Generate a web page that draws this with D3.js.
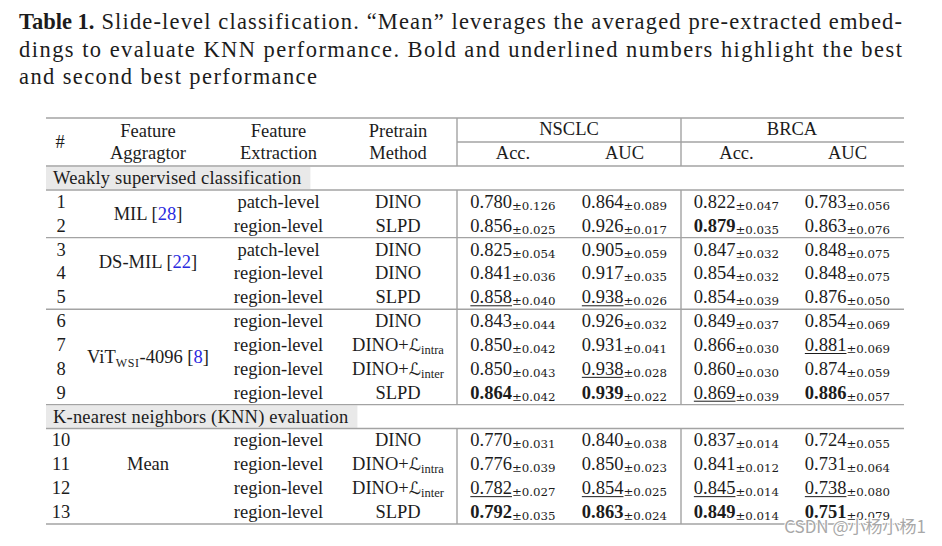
<!DOCTYPE html>
<html>
<head>
<meta charset="utf-8">
<script src="https://cdn.jsdelivr.net/npm/d3@7"></script>
<style>
  html, body { margin: 0; padding: 0; background: #fff; }
  svg { display: block; }
</style>
</head>
<body>
<svg id="chart" width="942" height="546"></svg>
<script>
// ---------------- DATA ----------------
const captionLines = [
  "Slide-level classification. \u201CMean\u201D leverages the averaged pre-extracted embed-",
  "dings to evaluate KNN performance. Bold and underlined numbers highlight the best",
  "and second best performance"
];
const sections = ["Weakly supervised classification", "K-nearest neighbors (KNN) evaluation"];
const sectionSizes = [9, 4];
const rowIds = [1,2,3,4,5,6,7,8,9,10,11,12,13];
const aggNames = ["MIL", "DS-MIL", "ViT", "Mean"];
const aggCites = ["28", "22", "8", null];
const aggSpans = [2, 3, 4, 4];
const aggRowPos = [0.5, 0.5, 1.5, 1];   // row (within span) where the label sits
const extraction = ["patch-level","region-level","patch-level","region-level","region-level",
  "region-level","region-level","region-level","region-level",
  "region-level","region-level","region-level","region-level"];
const methods = ["DINO","SLPD","DINO","DINO","SLPD","DINO","DINO+intra","DINO+inter","SLPD",
  "DINO","DINO+intra","DINO+inter","SLPD"];
const datasets = ["NSCLC", "BRCA"];
const metrics = ["Acc.", "AUC"];
const nsclcAcc    = [0.780,0.856,0.825,0.841,0.858,0.843,0.850,0.850,0.864,0.770,0.776,0.782,0.792];
const nsclcAccStd = [0.126,0.025,0.054,0.036,0.040,0.044,0.042,0.043,0.042,0.031,0.039,0.027,0.035];
const nsclcAuc    = [0.864,0.926,0.905,0.917,0.938,0.926,0.931,0.938,0.939,0.840,0.850,0.854,0.863];
const nsclcAucStd = [0.089,0.017,0.059,0.035,0.026,0.032,0.041,0.028,0.022,0.038,0.023,0.025,0.024];
const brcaAcc     = [0.822,0.879,0.847,0.854,0.854,0.849,0.866,0.860,0.869,0.837,0.841,0.845,0.849];
const brcaAccStd  = [0.047,0.035,0.032,0.032,0.039,0.037,0.030,0.030,0.039,0.014,0.012,0.014,0.014];
const brcaAuc     = [0.783,0.863,0.848,0.848,0.876,0.854,0.881,0.874,0.886,0.724,0.731,0.738,0.751];
const brcaAucStd  = [0.056,0.076,0.075,0.075,0.050,0.069,0.069,0.059,0.057,0.055,0.064,0.080,0.079];

// ---------------- LAYOUT ----------------
const svg = d3.select("#chart");
const serif = "'Liberation Serif', 'Times New Roman', serif";
const ink = "#1c1c1c";
const ruleColor = "#a3a3a3";
const citeColor = "#2a2ae0";

// Caption
const cap = svg.append("g").attr("fill", ink);
const capText = () => cap.append("text").attr("font-family", serif).attr("font-size", 22.5);
const capY = [29, 57, 84];
const t0 = capText().attr("x", 19).attr("y", capY[0]).attr("font-weight", "bold").text("Table 1.");
const tw = t0.node().getComputedTextLength();
capText().attr("x", 19 + tw + 7).attr("y", capY[0])
  .attr("textLength", 902 - (19 + tw + 7)).attr("lengthAdjust", "spacing").text(captionLines[0]);
capText().attr("x", 19).attr("y", capY[1])
  .attr("textLength", 883).attr("lengthAdjust", "spacing").text(captionLines[1]);
capText().attr("x", 19).attr("y", capY[2])
  .attr("textLength", 298).attr("lengthAdjust", "spacing").text(captionLines[2]);

// Table scales
const xL = 46, xR = 904;
const x = d3.scaleOrdinal()
  .domain(["id","agg","ext","method","NSCLC-Acc.","NSCLC-AUC","BRCA-Acc.","BRCA-AUC"])
  .range([61, 148, 278.5, 398, 513, 624.5, 736.5, 847.5]);
const xDataset = d3.scaleOrdinal().domain(datasets).range([569, 792]);
const vlines = [457, 681];
const y = d3.scaleLinear().domain([-1, 13]).range([178, 512]);
const slotOf = i => (i < sectionSizes[0] ? i : i + 1);
const slotOfF = r => (r < sectionSizes[0] - 0.5 ? r : r + 1);
const base = 6;

const tbl = svg.append("g").attr("font-family", serif).attr("font-size", 18.5).attr("fill", ink);

// Section gray backgrounds and labels
const sectionSlots = [-1, sectionSizes[0]];
sections.forEach((s, k) => {
  const yc = y(sectionSlots[k]);
  const txt = tbl.append("text").attr("x", 53).attr("y", yc + base)
    .attr("letter-spacing", 0.2).text(s);
  const w = txt.node().getComputedTextLength();
  tbl.insert("rect", "text").attr("x", xL).attr("y", y(sectionSlots[k] - 0.5) + 0.7)
    .attr("width", (53 - xL) + w + 9).attr("height", y(sectionSlots[k] + 0.5) - y(sectionSlots[k] - 0.5) - 1.4)
    .attr("fill", "#e9e9e9");
});

// Horizontal rules
const hr = (yy, x1 = xL, x2 = xR) => tbl.append("line").attr("x1", x1).attr("x2", x2)
  .attr("y1", yy).attr("y2", yy).attr("stroke", ruleColor).attr("stroke-width", 1.4);
hr(118);
hr(142, vlines[0], xR);
hr(y(-1.5));
hr(y(-0.5));
let acc = 0;
aggSpans.forEach((n) => {
  acc += n;
  hr(y(slotOf(acc - 1) + 0.5));
});
hr(y(sectionSizes[0] + 0.5));

// Vertical rules
const vSegs = [[118, y(-1.5)], [y(-0.5), y(sectionSizes[0] - 0.5)], [y(sectionSizes[0] + 0.5), y(13.5)]];
vlines.forEach(vx => vSegs.forEach(([a, b]) => tbl.append("line")
  .attr("x1", vx).attr("x2", vx).attr("y1", a).attr("y2", b)
  .attr("stroke", ruleColor).attr("stroke-width", 1.4)));

// Header
const mid = (t, xx, yy) => tbl.append("text").attr("x", xx).attr("y", yy).attr("text-anchor", "middle").text(t);
mid("#", x("id") - 1, 148);
mid("Feature", x("agg"), 137); mid("Aggragtor", x("agg"), 159);
mid("Feature", x("ext"), 137); mid("Extraction", x("ext"), 159);
mid("Pretrain", x("method"), 137); mid("Method", x("method"), 159);
datasets.forEach(d => {
  mid(d, xDataset(d), 135);
  metrics.forEach(m => mid(m, x(d + "-" + m), 159));
});

// Body: id, extraction, method
rowIds.forEach((id, i) => {
  const yy = y(slotOf(i)) + base;
  mid(String(id), x("id"), yy);
  mid(extraction[i], x("ext"), yy);
  const m = methods[i];
  const t = tbl.append("text").attr("x", x("method")).attr("y", yy).attr("text-anchor", "middle");
  if (m.indexOf("+") >= 0) {
    const sub = m.split("+")[1];
    t.append("tspan").text("DINO+");
    t.append("tspan").attr("font-family", "'DejaVu Sans', sans-serif").attr("font-size", 17).text("\u2112");
    t.append("tspan").attr("font-size", 12.5).attr("dy", 3).text(sub);
  } else {
    t.text(m);
  }
});

// Aggregator names
let start = 0;
aggNames.forEach((name, k) => {
  const yy = y(slotOfF(start + aggRowPos[k])) + base;
  const t = tbl.append("text").attr("x", x("agg")).attr("y", yy).attr("text-anchor", "middle");
  t.append("tspan").text(name);
  if (name === "ViT") {
    t.append("tspan").attr("font-size", 12).attr("dy", 4).attr("letter-spacing", 0.6).text("WSI");
    t.append("tspan").attr("dy", -4).text("-4096");
  }
  if (aggCites[k]) {
    t.append("tspan").text(" [");
    t.append("tspan").attr("fill", citeColor).text(aggCites[k]);
    t.append("tspan").text("]");
  }
  start += aggSpans[k];
});

// Numeric cells
const columns = [
  { key: "NSCLC-Acc.", v: nsclcAcc, s: nsclcAccStd },
  { key: "NSCLC-AUC",  v: nsclcAuc, s: nsclcAucStd },
  { key: "BRCA-Acc.",  v: brcaAcc,  s: brcaAccStd },
  { key: "BRCA-AUC",   v: brcaAuc,  s: brcaAucStd }
];
const secStarts = [0, sectionSizes[0]];
columns.forEach(col => {
  const rank = new Array(col.v.length).fill(0);
  secStarts.forEach((s0, k) => {
    const vals = col.v.slice(s0, s0 + sectionSizes[k]);
    const uniq = Array.from(new Set(vals)).sort(d3.descending);
    vals.forEach((v, j) => { rank[s0 + j] = uniq.indexOf(v) + 1; });
  });
  col.v.forEach((v, i) => {
    const yy = y(slotOf(i)) + base;
    const t = tbl.append("text").attr("x", x(col.key)).attr("y", yy).attr("text-anchor", "middle");
    const main = t.append("tspan").text(v.toFixed(3));
    if (rank[i] === 1) main.attr("font-weight", "bold");
    t.append("tspan").attr("font-family", "'DejaVu Serif', serif").attr("font-size", 11.8)
      .attr("dy", 2).text("\u00B1" + col.s[i].toFixed(3));
    if (rank[i] === 2) {
      const bb = t.node().getBBox();
      const w = main.node().getComputedTextLength();
      tbl.append("line").attr("x1", bb.x).attr("x2", bb.x + w)
        .attr("y1", yy + 2.5).attr("y2", yy + 2.5).attr("stroke", ink).attr("stroke-width", 1);
    }
  });
});

// Watermark
svg.append("text").attr("x", 926).attr("y", 533).attr("text-anchor", "end")
  .attr("font-family", "'Noto Sans CJK SC', 'Noto Sans', sans-serif").attr("font-size", 17)
  .attr("fill", "#a8a8a8").attr("stroke", "#fff").attr("stroke-width", 2).attr("paint-order", "stroke")
  .text("CSDN @\u5C0F\u6768\u5C0F\u67681");
</script>
</body>
</html>
